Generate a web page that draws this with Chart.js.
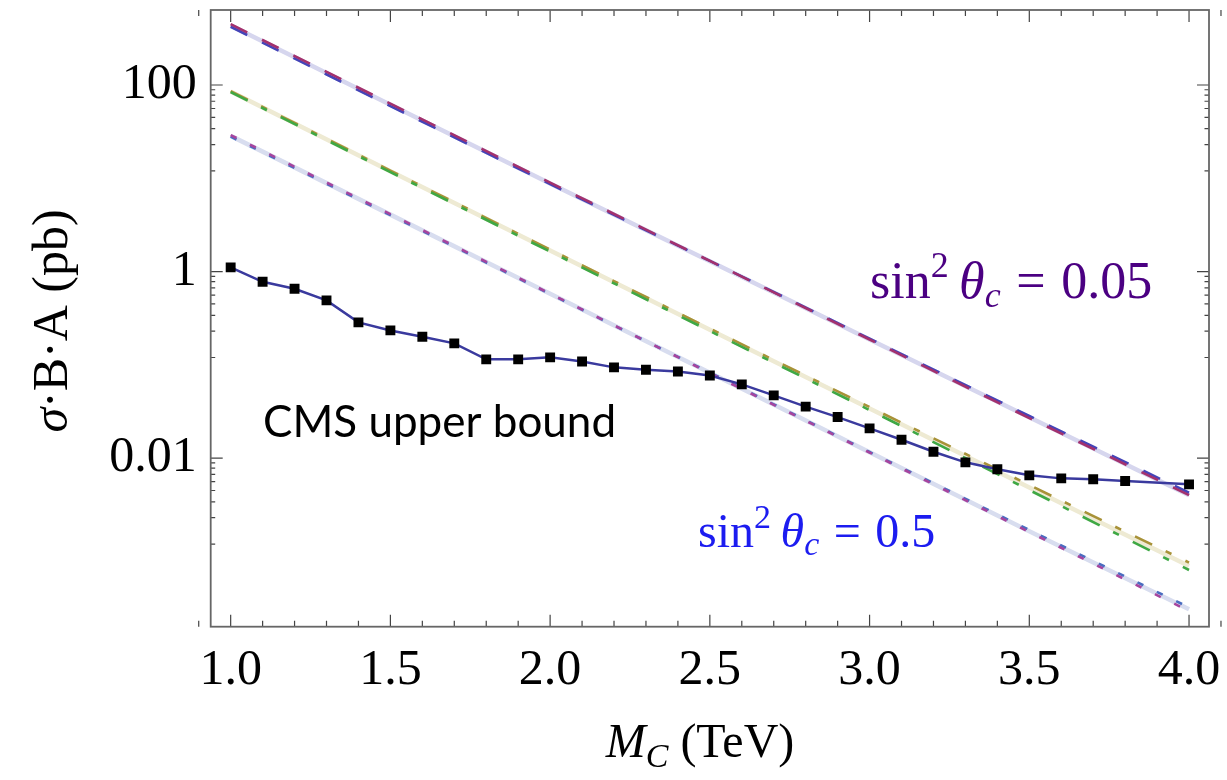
<!DOCTYPE html>
<html>
<head>
<meta charset="utf-8">
<script src="https://cdn.jsdelivr.net/npm/chart.js@4.4.1/dist/chart.umd.min.js"></script>
<style>
  html, body { margin: 0; padding: 0; background: #fff; }
  #wrap { width: 1227px; height: 780px; position: relative; }
</style>
</head>
<body>
<div id="wrap"><canvas id="chart"></canvas></div>
<script>
// masses where the model curves were sampled (TeV)
const massGrid = [1.0, 1.5, 2.0, 2.5, 3.0, 3.5, 4.0];

// sin^2 theta_c = 0.05 (long dashes), two variants and the band under them
const wideA = [449, 63.2, 8.99, 1.30, 0.187, 0.0269, 0.00402];
const wideB = [421, 59.4, 8.67, 1.30, 0.191, 0.0283, 0.00426];
const wideBand = [435, 61.3, 8.8, 1.29, 0.187, 0.0274, 0.00400];

// intermediate mixing (dash-dot)
const midA = [83.9, 11.65, 1.638, 0.2303, 0.03277, 0.00455, 0.000632];
const midB = [86.0, 12.09, 1.721, 0.245, 0.0353, 0.00515, 0.00076];
const midBand = [85.0, 11.9, 1.68, 0.238, 0.0340, 0.00485, 0.000698];

// sin^2 theta_c = 0.5 (dotted)
const narrowA = [29.04, 4.13, 0.581, 0.0817, 0.01148, 0.001614, 0.0002297];
const narrowB = [27.99, 4.03, 0.574, 0.0827, 0.01163, 0.001696, 0.000251];
const narrowBand = [28.5, 4.08, 0.577, 0.0822, 0.01155, 0.00165, 0.000240];

// CMS observed upper bound (no point at 3.9)
const cmsMass = [1.0, 1.1, 1.2, 1.3, 1.4, 1.5, 1.6, 1.7, 1.8, 1.9, 2.0, 2.1, 2.2, 2.3, 2.4,
  2.5, 2.6, 2.7, 2.8, 2.9, 3.0, 3.1, 3.2, 3.3, 3.4, 3.5, 3.6, 3.7, 3.8, 4.0];
const cmsLimit = [1.109, 0.777, 0.654, 0.491, 0.2855, 0.234, 0.200, 0.170, 0.1146, 0.1146,
  0.1203, 0.1085, 0.0940, 0.0886, 0.0848, 0.0768, 0.0618, 0.0471, 0.0357, 0.02757,
  0.02087, 0.01575, 0.01171, 0.00902, 0.00759, 0.00654, 0.00607, 0.00593, 0.00568, 0.00524];

// axis ticks
const xTicks = [1.0, 1.5, 2.0, 2.5, 3.0, 3.5, 4.0];
const xTickLabels = ['1.0', '1.5', '2.0', '2.5', '3.0', '3.5', '4.0'];
const yTicks = [0.01, 1, 100];
const yTickLabels = ['0.01', '1', '100'];
const yDecades = [0.0001, 0.01, 1, 100, 10000];

const serif = '"Liberation Serif", "Times New Roman", serif';

function pts(xs, ys) {
  return xs.map((x, i) => ({ x: x, y: ys[i] }));
}

function curve(data, color, width, dash) {
  return {
    data: data,
    borderColor: color,
    borderWidth: width,
    borderDash: dash || [],
    pointRadius: 0,
    fill: false,
    tension: 0,
  };
}

// sin^2 theta_c = value, typeset piece by piece
function drawSin(ctx, x0, base, size, value, color) {
  ctx.fillStyle = color;
  const small = Math.round(size * 0.7);
  const parts = [
    [size + 'px ' + serif, 'sin', 0, 0],
    [small + 'px ' + serif, '2', -size * 0.4, size * 0.2],
    ['italic ' + size + 'px ' + serif, '\u03b8', 0, 0],
    ['italic ' + small + 'px ' + serif, 'c', size * 0.17, size * 0.3],
    [size + 'px ' + serif, '=', 0, size * 0.3],
    [size + 'px ' + serif, value, 0, 0],
  ];
  let cx = x0;
  parts.forEach(p => {
    ctx.font = p[0];
    ctx.fillText(p[1], cx, base + p[2]);
    cx += ctx.measureText(p[1]).width + p[3];
  });
}

// frame with inward ticks on all four sides, like a boxed plot
const framePlugin = {
  id: 'frame',
  afterDraw(chart) {
    const { ctx, chartArea: a, scales } = chart;
    const x = scales.x, y = scales.y;
    ctx.save();
    ctx.strokeStyle = '#444';
    ctx.lineWidth = 1.2;
    ctx.beginPath();
    for (let k = 9; k <= 41; k++) {
      const px = x.getPixelForValue(k / 10);
      const len = k % 5 === 0 ? 12 : 6;
      ctx.moveTo(px, a.bottom); ctx.lineTo(px, a.bottom - len);
      ctx.moveTo(px, a.top); ctx.lineTo(px, a.top + len);
    }
    for (let d = 0; d < yDecades.length - 1; d++) {
      const lo = yDecades[d], hi = yDecades[d + 1];
      for (let k = 0; k < 9; k++) {
        const v = hi - k * (hi - lo) / 9;
        if (v < y.min || v > y.max) continue;
        const py = y.getPixelForValue(v);
        const len = k === 0 ? 12 : 4.5;
        ctx.moveTo(a.left, py); ctx.lineTo(a.left + len, py);
        ctx.moveTo(a.right, py); ctx.lineTo(a.right - len, py);
      }
    }
    ctx.stroke();
    ctx.strokeStyle = '#666';
    ctx.lineWidth = 1.8;
    ctx.strokeRect(a.left, a.top, a.right - a.left, a.bottom - a.top);

    // axis titles
    ctx.fillStyle = '#000';
    ctx.textBaseline = 'alphabetic';
    ctx.textAlign = 'left';
    const parts = [
      ['italic 48px ' + serif, 'M', 0],
      ['italic 34px ' + serif, 'C', 10],
      ['48px ' + serif, ' (TeV)', 0],
    ];
    let total = 0;
    parts.forEach(p => { ctx.font = p[0]; total += ctx.measureText(p[1]).width; });
    let cx = 700 - total / 2;
    parts.forEach(p => {
      ctx.font = p[0];
      ctx.fillText(p[1], cx, 757 + p[2]);
      cx += ctx.measureText(p[1]).width;
    });

    ctx.save();
    ctx.translate(67, 321);
    ctx.rotate(-Math.PI / 2);
    const yparts = [
      ['italic 50px ' + serif, '\u03c3'],
      ['50px ' + serif, '\u00b7B\u00b7A (pb)'],
    ];
    total = 0;
    yparts.forEach(p => { ctx.font = p[0]; total += ctx.measureText(p[1]).width; });
    cx = -total / 2;
    yparts.forEach(p => {
      ctx.font = p[0];
      ctx.fillText(p[1], cx, 0);
      cx += ctx.measureText(p[1]).width;
    });
    ctx.restore();

    // annotations
    ctx.font = '44px Lato, "Open Sans", sans-serif';
    ctx.fillStyle = '#000';
    ctx.fillText('CMS upper bound', 263, 437);

    drawSin(ctx, 870, 298, 52, '0.05', '#4b0082');
    drawSin(ctx, 698, 547, 48, '0.5', '#1c1cf0');
    ctx.restore();
  }
};

new Chart(document.getElementById('chart'), {
  type: 'line',
  data: {
    datasets: [
      {
        data: pts(cmsMass, cmsLimit),
        borderColor: '#3a3a9e',
        borderWidth: 2.5,
        pointStyle: 'rect',
        pointRadius: 7,
        pointBackgroundColor: '#000',
        pointBorderWidth: 0,
        tension: 0,
      },
      curve(pts(massGrid, wideA), '#a3316e', 2.6, [18.5, 16.5]),
      curve(pts(massGrid, wideB), '#4444b8', 2.6, [18.5, 16.5]),
      curve(pts(massGrid, midA), '#3fa844', 2.6, [19, 15, 6.5, 15.5]),
      curve(pts(massGrid, midB), '#a89238', 2.6, [19, 15, 6.5, 15.5]),
      curve(pts(massGrid, narrowA), '#a6449e', 2.6, [6.5, 15]),
      curve(pts(massGrid, narrowB), '#4a6cc0', 2.6, [6.5, 15]),
      curve(pts(massGrid, wideBand), '#d6d6ee', 4.5),
      curve(pts(massGrid, midBand), '#eeead3', 4.5),
      curve(pts(massGrid, narrowBand), '#d8ddef', 4.5),
    ],
  },
  options: {
    responsive: true,
    maintainAspectRatio: false,
    animation: false,
    devicePixelRatio: 1,
    layout: { padding: { left: 0, top: 10, right: 18, bottom: 0 } },
    plugins: { legend: { display: false }, tooltip: { enabled: false } },
    scales: {
      x: {
        type: 'linear',
        min: 0.9375,
        max: 4.0625,
        grid: { display: false, drawTicks: false },
        border: { display: false },
        afterBuildTicks: (s) => { s.ticks = xTicks.map(v => ({ value: v })); },
        afterFit: (s) => {
          s.height = 153.3;
          s.paddingLeft = 0;
          s.paddingRight = 0;
        },
        ticks: {
          autoSkip: false,
          maxRotation: 0,
          padding: 14,
          color: '#000',
          font: { family: serif, size: 50 },
          callback: (v) => xTickLabels[xTicks.indexOf(v)] ?? '',
        },
      },
      y: {
        type: 'logarithmic',
        min: 1.56e-4,
        max: 637,
        grid: { display: false, drawTicks: false },
        border: { display: false },
        afterBuildTicks: (s) => { s.ticks = yTicks.map(v => ({ value: v })); },
        afterFit: (s) => {
          s.width = 210.7;
          s.paddingTop = 0;
          s.paddingBottom = 0;
        },
        ticks: {
          autoSkip: false,
          padding: 14,
          color: '#000',
          font: { family: serif, size: 50 },
          callback: (v) => yTickLabels[yTicks.indexOf(v)] ?? '',
        },
      },
    },
  },
  plugins: [framePlugin],
});
</script>
</body>
</html>
